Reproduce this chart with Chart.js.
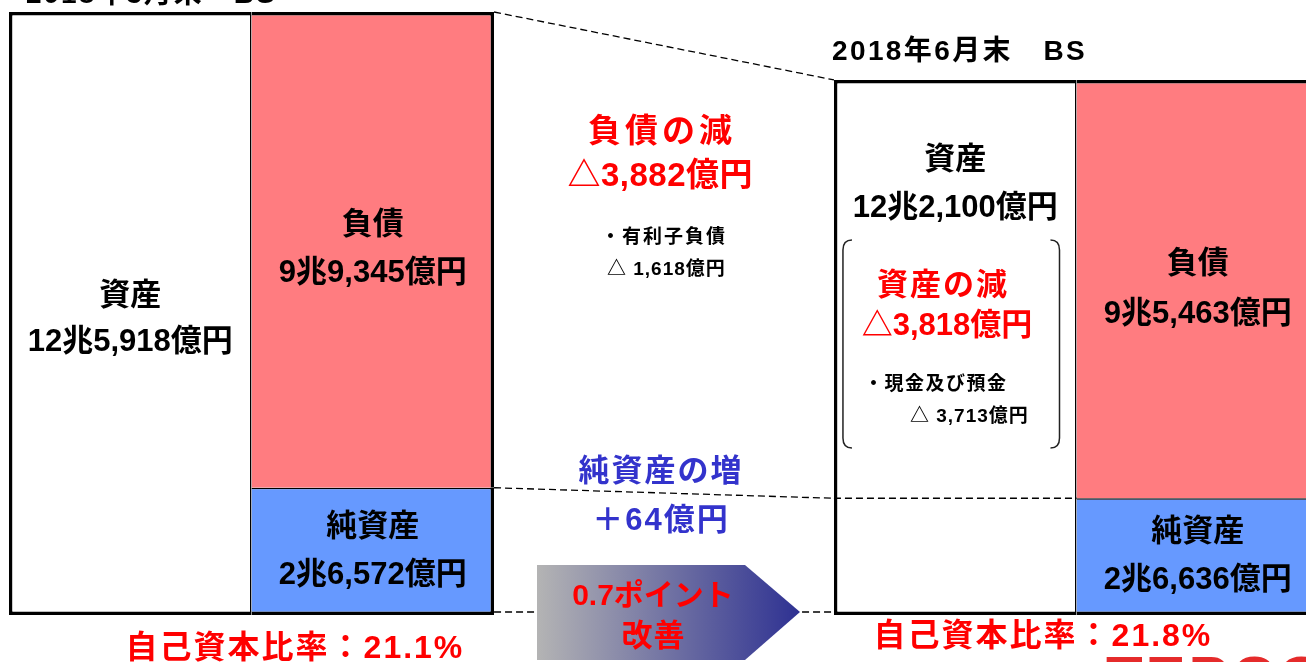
<!DOCTYPE html>
<html>
<head>
<meta charset="utf-8">
<script src="https://cdn.jsdelivr.net/npm/chart.js@4.4.1/dist/chart.umd.min.js"></script>
<style>
  html, body { margin: 0; padding: 0; background: #fff; overflow: hidden; width: 1306px; height: 662px; }
  #bs { position: absolute; left: -161px; top: 0; }
</style>
</head>
<body>
<canvas id="bs" width="1650" height="662"></canvas>
<script>
// 貸借対照表 (単位: 兆円)
var periods = ['2018年3月末', '2018年6月末'];
var assets = [12.5918, 12.2100];
var liabilities = [9.9345, 9.5463];
var netAssets = [2.6572, 2.6636];

var assetLabels = ['12兆5,918億円', '12兆2,100億円'];
var liabLabels = ['9兆9,345億円', '9兆5,463億円'];
var netLabels = ['2兆6,572億円', '2兆6,636億円'];
var equityRatio = ['21.1%', '21.8%'];

var red = '#FF7C80';
var blue = '#6699FF';
var OUT = 3.5, IN = 1.5;
var JP = '"Liberation Sans", "Noto Sans CJK JP", sans-serif';

// one stack per column, one y axis per period
var datasets = [];
periods.forEach(function (p, i) {
    var axis = i === 0 ? 'yL' : 'yR';
    function only(arr) {
        return periods.map(function (_, j) { return j === i ? arr[i] : null; });
    }
    datasets.push({ label: p + ' 資産', data: only(assets), yAxisID: axis, stack: 'a',
        backgroundColor: '#FFFFFF', borderWidth: { top: OUT, left: OUT, bottom: OUT, right: IN } });
    datasets.push({ label: p + ' 純資産', data: only(netAssets), yAxisID: axis, stack: 'b',
        backgroundColor: blue, borderWidth: { top: IN, right: OUT, bottom: OUT, left: 0 } });
    datasets.push({ label: p + ' 負債', data: only(liabilities), yAxisID: axis, stack: 'b',
        backgroundColor: red, borderWidth: { top: OUT, right: OUT, bottom: 0, left: 0 } });
});

function box(chart, i) {
    var a = chart.getDatasetMeta(i * 3).data[i];
    var n = chart.getDatasetMeta(i * 3 + 1).data[i];
    var l = chart.getDatasetMeta(i * 3 + 2).data[i];
    return {
        left: a.x - a.width / 2, mid: a.x + a.width / 2, right: l.x + l.width / 2,
        top: a.y, bottom: a.base, split: n.y, ax: a.x, lx: l.x
    };
}

function txt(ctx, s, x, y, size, color, align, spacing) {
    ctx.font = 'bold ' + size + 'px ' + JP;
    ctx.fillStyle = color;
    ctx.textAlign = align || 'center';
    ctx.textBaseline = 'middle';
    ctx.letterSpacing = (spacing || 0) + 'px';
    ctx.fillText(s, x + (align === 'left' ? 0 : (spacing || 0) / 2), y);
}

function dash(ctx, x1, y1, x2, y2) {
    ctx.beginPath();
    ctx.moveTo(x1, y1);
    ctx.lineTo(x2, y2);
    ctx.stroke();
}

var annotations = {
    id: 'annotations',
    afterDatasetsDraw: function (chart) {
        var ctx = chart.ctx;
        var L = box(chart, 0), R = box(chart, 1);
        var gap = (L.right + R.left) / 2;
        ctx.save();

        // dashed connectors
        ctx.strokeStyle = '#000';
        ctx.lineWidth = 1.3;
        ctx.setLineDash([7, 4]);
        dash(ctx, L.right, L.top, R.left, R.top);
        dash(ctx, L.right, L.split, R.left, R.split);
        dash(ctx, R.left, R.split, R.mid, R.split);
        dash(ctx, L.right, L.bottom - 3, R.left, R.bottom - 3);
        ctx.setLineDash([]);

        // arrow
        var ax0 = gap - 127, ax1 = gap + 136, ay = L.bottom - 3;
        var g = ctx.createLinearGradient(ax0, 0, ax1, 0);
        g.addColorStop(0, '#B4B4B4');
        g.addColorStop(1, '#2E3192');
        ctx.fillStyle = g;
        ctx.beginPath();
        ctx.moveTo(ax0, ay - 47);
        ctx.lineTo(ax1 - 55, ay - 47);
        ctx.lineTo(ax1, ay);
        ctx.lineTo(ax1 - 55, ay + 48);
        ctx.lineTo(ax0, ay + 48);
        ctx.closePath();
        ctx.fill();
        txt(ctx, '0.7ポイント', gap - 11, 597, 30, '#FF0000');
        txt(ctx, '改善', gap - 11, 637, 31, '#FF0000', 'center', 1);

        // titles
        txt(ctx, periods[0] + '　BS', L.left + 17, L.top - 17, 28, '#000', 'left', 2);
        txt(ctx, periods[1] + '　BS', R.left - 2, R.top - 28, 28, '#000', 'left', 2.4);

        // left box
        var cy = (L.top + L.bottom) / 2 + 6;
        txt(ctx, '資産', L.ax, cy - 23, 31, '#000');
        txt(ctx, assetLabels[0], L.ax, cy + 23, 31, '#000');
        cy = (L.top + L.split) / 2;
        txt(ctx, '負債', L.lx, cy - 24, 31, '#000');
        txt(ctx, liabLabels[0], L.lx, cy + 24, 31, '#000');
        cy = (L.split + L.bottom) / 2;
        txt(ctx, '純資産', L.lx, cy - 24, 31, '#000');
        txt(ctx, netLabels[0], L.lx, cy + 24, 31, '#000');

        // middle notes
        txt(ctx, '負債の減', gap - 4, 133, 33, '#FF0000', 'center', 4);
        txt(ctx, '△3,882億円', gap - 4, 177, 33, '#FF0000', 'center', 0.5);
        txt(ctx, '・有利子負債', gap - 63, 238, 19, '#000', 'left', 2);
        txt(ctx, '△ 1,618億円', gap - 57, 270, 19, '#000', 'left', 1);
        txt(ctx, '純資産の増', gap - 4, 472, 31, '#3333CC', 'center', 2);
        txt(ctx, '＋64億円', gap - 4, 521, 31, '#3333CC', 'center', 2);

        // right box
        txt(ctx, '資産', R.ax, R.top + 81, 31, '#000');
        txt(ctx, assetLabels[1], R.ax, R.top + 129, 31, '#000');
        txt(ctx, '資産の減', R.left + 108, R.top + 207, 31, '#FF0000', 'center', 2);
        txt(ctx, '△3,818億円', R.left + 113, R.top + 247, 31, '#FF0000');
        txt(ctx, '・現金及び預金', R.left + 30, R.top + 305, 19, '#000', 'left', 1.5);
        txt(ctx, '△ 3,713億円', R.left + 76, R.top + 337, 19, '#000', 'left', 1);
        cy = (R.top + R.split) / 2;
        txt(ctx, '負債', R.lx, cy - 25, 31, '#000');
        txt(ctx, liabLabels[1], R.lx, cy + 25, 31, '#000');
        cy = (R.split + R.bottom) / 2;
        txt(ctx, '純資産', R.lx, cy - 24, 31, '#000');
        txt(ctx, netLabels[1], R.lx, cy + 24, 31, '#000');

        // bracket
        var bx0 = R.left + 9, bx1 = R.mid - 17, by0 = R.top + 160, by1 = R.top + 368;
        ctx.strokeStyle = '#222';
        ctx.lineWidth = 1.5;
        ctx.beginPath();
        ctx.moveTo(bx0 + 9, by0);
        ctx.quadraticCurveTo(bx0, by0, bx0, by0 + 10);
        ctx.lineTo(bx0, by1 - 10);
        ctx.quadraticCurveTo(bx0, by1, bx0 + 9, by1);
        ctx.moveTo(bx1 - 9, by0);
        ctx.quadraticCurveTo(bx1, by0, bx1, by0 + 10);
        ctx.lineTo(bx1, by1 - 10);
        ctx.quadraticCurveTo(bx1, by1, bx1 - 9, by1);
        ctx.stroke();

        // equity ratio
        txt(ctx, '自己資本比率：' + equityRatio[0], L.left + 285, 649, 32, '#FF0000', 'center', 2);
        txt(ctx, '自己資本比率：' + equityRatio[1], R.left + 208, 637, 32, '#FF0000', 'center', 2);

        // logo, mostly cropped
        ctx.font = 'bold 60px ' + JP;
        ctx.fillStyle = '#E52B2B';
        ctx.textAlign = 'left';
        ctx.textBaseline = 'alphabetic';
        ctx.letterSpacing = '3px';
        ctx.fillText('TEPCO', R.left + 272, 698);

        ctx.restore();
    }
};

new Chart(document.getElementById('bs'), {
    type: 'bar',
    data: { labels: periods, datasets: datasets },
    options: {
        responsive: false,
        animation: false,
        layout: { padding: { top: 12, bottom: 47, left: 0, right: 0 } },
        plugins: { legend: { display: false }, tooltip: { enabled: false } },
        datasets: {
            bar: { barPercentage: 1, categoryPercentage: 0.588, borderSkipped: false, borderColor: '#000' }
        },
        scales: {
            x: { display: false },
            yL: { display: false, stacked: true, min: 0, max: assets[0] },
            yR: { display: false, stacked: true, min: 0, max: 13.76, position: 'right' }
        }
    },
    plugins: [annotations]
});
</script>
</body>
</html>
